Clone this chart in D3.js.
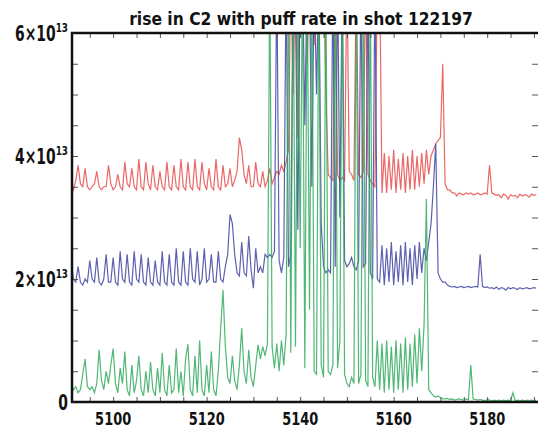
<!DOCTYPE html>
<html>
<head>
<meta charset="utf-8">
<script src="https://cdn.jsdelivr.net/npm/d3@7"></script>
<style>
body { margin:0; background:#fff; }
text { font-family: "DejaVu Sans", sans-serif; font-weight:bold; fill:#111; }
</style>
</head>
<body>
<div id="chart"></div>
<script>
// sample times: first time and spacing (every 0.5 units)
var tStart = 5091;
var tStep = 0.5;

// signal values in units of 1e13
var redVals = [
3.5,3.45,3.6,3.85,3.55,3.5,3.8,3.5,3.45,3.5,
3.55,3.75,3.5,3.45,3.5,3.5,3.85,3.55,3.45,3.5,
3.7,3.5,3.45,3.9,3.55,3.5,3.8,3.5,3.45,3.95,
3.5,3.45,3.9,3.55,3.45,3.85,3.5,3.45,3.75,3.5,
3.45,3.9,3.5,3.45,3.85,3.5,3.45,3.95,3.5,3.45,
3.9,3.5,3.45,3.95,3.5,3.45,3.9,3.55,3.45,3.8,
3.5,3.45,3.95,3.5,3.45,3.85,3.5,3.55,3.8,3.5,
3.6,3.75,4.3,4.1,3.7,3.55,3.85,3.5,3.5,3.9,
3.55,3.5,3.75,3.5,3.6,3.8,3.55,3.65,3.75,3.7,
3.85,3.75,3.9,4.1,7,5.0,7,4.3,7,6.0,
7,5.5,7,7,5.8,7,7,6.5,7,5.0,
3.7,3.65,3.6,7,3.7,3.6,3.65,3.6,7,3.75,
3.7,3.6,7,3.7,3.65,3.75,7,3.7,3.6,3.55,
3.5,7,7,3.4,4.05,3.4,4.0,3.45,4.1,3.4,
3.95,3.45,4.05,3.4,4.0,3.45,4.1,3.45,4.0,3.5,
4.05,3.55,4.1,3.7,4.0,4.1,4.2,4.25,4.3,5.5,
3.55,3.45,3.45,3.4,3.4,3.35,3.4,3.38,3.37,3.4,
3.38,3.4,3.37,3.38,3.4,3.37,3.38,3.4,3.38,3.85,
3.4,3.38,3.36,3.37,3.32,3.38,3.36,3.3,3.37,3.35,
3.36,3.32,3.38,3.35,3.37,3.36,3.33,3.38,3.36,3.37
];

var blueVals = [
2.3,2.0,1.95,2.2,1.95,1.9,2.0,1.95,2.3,2.0,
1.95,2.35,1.95,1.9,2.0,2.4,1.95,1.95,2.35,1.95,
1.9,2.45,2.0,1.95,2.4,1.95,1.9,2.45,2.0,1.95,
2.4,1.95,1.9,2.35,1.95,1.9,2.3,1.95,1.9,2.45,
1.95,1.9,2.4,1.95,1.9,2.5,1.95,1.9,2.45,1.95,
1.9,2.5,2.0,1.95,2.45,1.9,2.0,2.5,1.95,2.0,
2.4,1.95,1.95,2.45,2.0,1.95,2.2,2.4,3.05,2.9,
2.4,2.1,2.05,2.6,2.1,2.05,2.7,2.15,1.85,2.5,
2.1,2.2,2.1,2.4,2.35,2.4,2.35,2.45,7,2.3,
2.1,2.35,7,2.2,2.4,7,6.5,2.8,7,7,
4.5,7,7,3.5,7,5.0,7,2.9,2.2,2.1,
2.15,2.1,7,2.2,7,3.0,7,2.3,2.2,2.25,
2.35,2.2,2.15,2.3,7,2.2,2.25,7,2.1,2.0,
7,2.0,1.95,2.55,1.9,2.5,1.95,2.6,1.9,2.45,
1.95,2.55,1.9,2.6,1.95,2.5,1.9,2.55,2.0,2.6,
2.1,2.5,2.3,2.6,2.9,3.5,4.2,2.1,2.0,1.95,
1.95,1.9,1.88,1.87,1.88,1.86,1.87,1.88,1.86,1.87,
1.88,1.86,1.87,1.88,1.87,2.4,1.88,1.86,1.87,1.85,
1.86,1.84,1.87,1.83,1.86,1.85,1.82,1.86,1.84,1.86,
1.85,1.83,1.86,1.84,1.85,1.86,1.84,1.85,1.86,1.85
];

var greenVals = [
0.3,0.2,0.25,0.15,0.2,0.45,0.7,0.25,0.2,0.25,
0.15,0.3,0.85,0.35,0.2,0.5,0.3,0.6,0.87,0.3,
0.15,0.55,0.3,0.82,0.2,0.1,0.6,0.15,0.35,0.75,
0.2,0.1,0.5,0.15,0.65,0.2,0.1,0.55,0.15,0.8,
0.2,0.1,0.6,0.15,0.2,0.87,0.15,0.5,0.1,0.7,
0.94,0.2,0.1,0.75,0.15,1.0,0.2,0.1,0.6,0.15,
0.82,0.2,0.1,0.5,1.2,1.82,0.9,0.4,0.3,0.75,
0.35,0.2,0.6,1.2,0.5,0.3,0.85,0.4,0.25,0.6,
0.93,0.7,0.9,0.75,0.95,7,0.9,0.55,0.95,0.5,
1.0,0.6,1.1,7,0.8,7,0.9,7,2.5,7,
0.55,7,1.5,7,0.5,0.45,7,0.6,0.4,7,
0.5,0.45,0.6,7,0.55,1.0,7,0.45,0.3,0.25,
0.4,0.3,7,0.3,0.45,7,0.35,0.25,7,0.4,
0.25,1.0,0.2,0.95,0.15,1.0,0.2,0.9,0.15,1.0,
0.2,0.95,0.15,1.05,0.2,0.95,0.25,1.1,0.3,1.2,
0.5,1.25,3.3,0.2,0.15,0.1,0.08,0.1,0.07,0.05,
0.05,0.06,0.04,0.05,0.03,0.04,0.05,0.04,0.03,0.05,
0.04,0.6,0.05,0.04,0.03,0.04,0.03,0.02,0.04,0.03,
0.02,0.03,0.02,0.03,0.02,0.03,0.02,0.03,0.02,0.15,
0.02,0.03,0.02,0.03,0.02,0.03,0.02,0.03,0.02,0.03
];

var xTickVals = [5100, 5120, 5140, 5160, 5180];
var yTickVals = [0, 2, 4, 6];
var titleText = "rise in C2 with puff rate in shot 122197";

var width = 538, height = 430;
var pLeft = 72, pRight = 540, pTop = 33, pBottom = 402;

var svg = d3.select("#chart").append("svg")
  .attr("width", width)
  .attr("height", height);

var x = d3.scaleLinear().domain([5091.2, 5191.3]).range([pLeft, pRight]);
var y = d3.scaleLinear().domain([0, 6]).range([pBottom, pTop]);

svg.append("clipPath").attr("id", "plotclip")
  .append("rect")
  .attr("x", pLeft).attr("y", pTop)
  .attr("width", pRight - pLeft).attr("height", pBottom - pTop);

var line = d3.line()
  .x(function(d, i) { return x(tStart + i * tStep); })
  .y(function(d) { return y(d); });

var plot = svg.append("g").attr("clip-path", "url(#plotclip)");

plot.append("path").datum(redVals)
  .attr("d", line).attr("fill", "none")
  .attr("stroke", "#e95656").attr("stroke-width", 1.2).attr("stroke-opacity", 0.9);
plot.append("path").datum(blueVals)
  .attr("d", line).attr("fill", "none")
  .attr("stroke", "#4245a2").attr("stroke-width", 1.2).attr("stroke-opacity", 0.85);
plot.append("path").datum(greenVals)
  .attr("d", line).attr("fill", "none")
  .attr("stroke", "#33aa5e").attr("stroke-width", 1.2).attr("stroke-opacity", 0.85);

// frame with inward ticks
var minorX = d3.range(5095, 5191, 5);
var minorY = d3.range(0.5, 6, 0.5);

function tickStyle(g) {
  g.select(".domain").remove();
  g.selectAll("line").attr("stroke", "#555");
}

svg.append("g")
  .attr("transform", "translate(0," + pBottom + ")")
  .call(d3.axisTop(x).tickValues(minorX).tickSize(5).tickFormat(""))
  .call(tickStyle);
svg.append("g")
  .attr("transform", "translate(0," + pTop + ")")
  .call(d3.axisBottom(x).tickValues(minorX).tickSize(5).tickFormat(""))
  .call(tickStyle);
svg.append("g")
  .attr("transform", "translate(" + pLeft + ",0)")
  .call(d3.axisRight(y).tickValues(minorY).tickSize(6).tickFormat(""))
  .call(tickStyle);
svg.append("g")
  .attr("transform", "translate(" + (pRight - 2) + ",0)")
  .call(d3.axisLeft(y).tickValues(minorY).tickSize(6).tickFormat(""))
  .call(tickStyle);

svg.append("path")
  .attr("d", "M" + pRight + "," + pTop + "H" + pLeft + "V" + pBottom + "H" + pRight)
  .attr("fill", "none").attr("stroke", "#111").attr("stroke-width", 2.5);

// squeezed text, the original font is a narrow one
function narrowText(px, py, sx, size, anchor) {
  return svg.append("g")
    .attr("transform", "translate(" + px + "," + py + ") scale(" + sx + ",1)")
    .append("text")
    .attr("text-anchor", anchor)
    .style("font-size", size + "px");
}

// x labels
xTickVals.forEach(function(v) {
  narrowText(x(v), 425, 0.72, 18, "middle").text(v);
});

// y labels: n x 10^13
yTickVals.forEach(function(v) {
  var t = narrowText(68, y(v) + 8, 0.68, 20.5, "end");
  if (v == 0) {
    t.text("0");
  } else {
    t.append("tspan").text(v + "\u00d710");
    t.append("tspan").attr("dy", -9).style("font-size", "13px").text("13");
  }
});

narrowText(301, 25, 0.865, 18, "middle").text(titleText);
</script>
</body>
</html>
